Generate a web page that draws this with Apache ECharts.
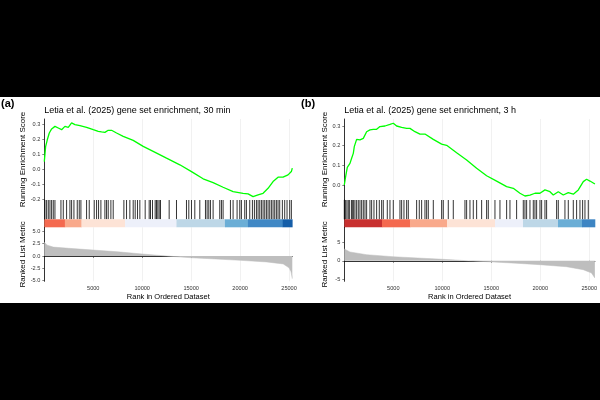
<!DOCTYPE html>
<html><head><meta charset="utf-8">
<script src="https://cdn.jsdelivr.net/npm/echarts@6/dist/echarts.min.js"></script>
<style>html,body{margin:0;padding:0;background:#fff}#c{width:600px;height:400px}</style>
</head><body><div id="c"></div>
<script>
// ---- panel (a): 30 min ----
const esRankA = [0,135,305,510,748,1088,1428,1768,2108,2448,2788,3128,3638,4319,5000,5509,5849,6189,6529,6869,7380,8060,9080,10100,11121,12481,13841,15032,16222,17242,18263,19283,20303,20813,21324,21834,22344,22854,23364,23874,24385,24895,25234,25330];
const esValA = [0.05,0.15,0.195,0.24,0.267,0.284,0.273,0.262,0.284,0.278,0.307,0.296,0.289,0.278,0.262,0.251,0.247,0.244,0.258,0.258,0.24,0.218,0.191,0.151,0.118,0.073,0.029,-0.016,-0.064,-0.089,-0.12,-0.149,-0.16,-0.164,-0.182,-0.171,-0.16,-0.127,-0.082,-0.053,-0.053,-0.038,-0.016,0.007];
const hitsA = [67,237,407,577,747,917,1088,1700,1938,2278,2618,2788,3026,3366,3570,3740,4319,4591,5101,5339,5543,5781,6189,6359,6529,6801,7039,8128,8400,8740,9080,9284,9522,9760,10304,10712,10848,11052,11324,11461,11597,11733,11869,12753,13501,14522,14760,15032,15372,15882,16460,16630,16800,16970,17242,17923,18093,18263,19011,19283,19691,19963,20133,20473,20643,20983,21256,21460,21664,21834,22004,22174,22344,22514,22684,22854,23024,23194,23364,23534,23704,23874,24044,24316,24554,24792,25064,25234];
const barBreaksA = [0,2100,3800,8250,13500,18450,20800,24350,25330];
const barColorsA = ['#F4694F','#F9A98B','#FDE3D6','#EDF0FA','#BDD7E7','#6BAED6','#4088C5','#155EA8'];
const metricRankA = [0,100,300,917,2500,5000,7500,10000,12500,15000,17500,20000,22700,24400,25000,25200,25330];
const metricValA = [2.8,2.5,2.2,1.8,1.56,1.2,0.85,0.4,0.0,-0.35,-0.6,-0.87,-1.2,-1.6,-2.4,-3.2,-4.6];

// ---- panel (b): 3 h ----
const esRankB = [0,136,306,578,748,918,1020,1258,1598,1939,2279,2619,2959,3299,3639,4149,4659,5000,5340,5850,6360,6700,7210,7720,8230,9081,9931,10441,11461,12482,13502,14522,15543,16563,17243,17923,18433,18944,19454,19964,20474,20984,21324,21834,22344,22855,23365,23875,24385,24725,25065,25575];
const esValB = [0.0,0.042,0.09,0.11,0.136,0.161,0.195,0.232,0.229,0.237,0.271,0.28,0.283,0.283,0.297,0.3,0.308,0.314,0.3,0.293,0.288,0.288,0.271,0.259,0.259,0.232,0.208,0.202,0.164,0.127,0.085,0.047,0.02,-0.008,-0.017,-0.042,-0.056,-0.051,-0.042,-0.042,-0.025,-0.034,-0.051,-0.034,-0.051,-0.039,-0.047,-0.025,0.017,0.029,0.02,0.005];
const hitsB = [0,136,272,408,544,748,816,952,1088,1258,1428,1598,1769,1939,2109,2279,2619,2789,3027,3299,3571,3809,3979,4387,4659,4999,5680,5850,6088,6360,6530,7380,7652,7890,8230,8400,8571,9081,9931,10101,10611,11121,12312,12482,12822,13162,13502,14012,14522,14692,15373,15883,16563,16903,17583,18263,18433,18604,18944,19284,19454,19624,19964,20134,20474,20644,21664,21834,22514,22855,23365,23705,24045,24317,24555,24895];
const barBreaksB = [0,3847,6704,10480,15378,18235,21806,24255,25580];
const barColorsB = ['#C8302F','#F4694F','#F9A98B','#FDE3D6','#EDF0FA','#BDD7E7','#6BAED6','#3D85C3'];
const metricRankB = [0,100,581,2279,5000,7500,10100,12650,15200,17500,19964,22685,24385,25235,25575];
const metricValB = [3.2,2.9,2.38,1.65,1.1,0.75,0.4,0.0,-0.32,-0.65,-1.05,-1.6,-2.4,-3.3,-4.65];

const xTicks = [5000,10000,15000,20000,25000];
const FONT = 'Liberation Sans, Arial, sans-serif';

const opt = {
  animation:false, backgroundColor:'#fff',
  title:[], grid:[], xAxis:[], yAxis:[], series:[],
  graphic:[
    {type:'rect', shape:{x:0,y:0,width:600,height:97}, style:{fill:'#000'}},
    {type:'rect', shape:{x:0,y:303,width:600,height:97}, style:{fill:'#000'}},
    {type:'text', left:1, top:98, style:{text:'(a)', font:'bold 11px '+FONT, fill:'#000'}},
    {type:'text', left:301, top:98, style:{text:'(b)', font:'bold 11px '+FONT, fill:'#000'}}
  ]
};

const lab = {fontSize:5.6, color:'#333', fontFamily:FONT};
const nameStyle = {fontSize:8, color:'#000', fontFamily:FONT};
const blackLine = {color:'#000', width:0.8};

function addPanel(k, p){
  const g = k*4;
  opt.title.push({text:p.title, left:p.left, top:106.5, padding:0,
    textStyle:{fontSize:9, fontWeight:'normal', color:'#000', fontFamily:FONT}});
  [[119,81],[200,19.3],[219.3,8],[227.3,54]].forEach(r =>
    opt.grid.push({left:p.left, top:r[0], width:p.width, height:r[1]}));
  for (let i=0;i<4;i++){
    const last = i===3;
    opt.xAxis.push({gridIndex:g+i, type:'value', min:0, max:p.xmax, interval:2500,
      axisLine:{show:last, lineStyle:blackLine},
      axisTick:{show:last, length:2, customValues:xTicks, lineStyle:{color:'#333', width:0.6}},
      axisLabel:{show:last, customValues:xTicks, formatter:v=>String(v), margin:4, ...lab},
      splitLine:{show:i!==2, lineStyle:{color:'#EBEBEB', width:0.7}},
      name: last ? 'Rank in Ordered Dataset' : '', nameLocation:'middle', nameGap:12,
      nameTextStyle:{...nameStyle, fontSize:7.5}
    });
  }
  opt.yAxis.push({gridIndex:g, type:'value', min:p.esMin, max:p.esMax,
    axisLine:{show:true, lineStyle:blackLine},
    axisTick:{show:true, length:2, customValues:p.esTicks, lineStyle:{color:'#333', width:0.6}},
    axisLabel:{customValues:p.esTicks, formatter:v=>v.toFixed(1), margin:4, ...lab},
    splitLine:{show:false},
    name:'Running Enrichment Score', nameLocation:'middle', nameGap:16, nameTextStyle:nameStyle});
  for (let i=1;i<3;i++) opt.yAxis.push({gridIndex:g+i, type:'value', min:0, max:1,
    axisLine:{show:true, lineStyle:blackLine}, axisTick:{show:false}, axisLabel:{show:false}, splitLine:{show:false}});
  opt.yAxis.push({gridIndex:g+3, type:'value', min:p.mMin, max:p.mMax,
    axisLine:{show:true, lineStyle:blackLine},
    axisTick:{show:true, length:2, customValues:p.mTicks, lineStyle:{color:'#333', width:0.6}},
    axisLabel:{customValues:p.mTicks, formatter:p.mFmt, margin:4, ...lab},
    splitLine:{show:false},
    name:'Ranked List Metric', nameLocation:'middle', nameGap:16, nameTextStyle:nameStyle});

  opt.series.push({type:'line', xAxisIndex:g, yAxisIndex:g, symbol:'none',
    data:p.esRank.map((r,i)=>[r,p.esVal[i]]), lineStyle:{color:'#00FF00', width:1.3}});
  opt.series.push({type:'custom', xAxisIndex:g+1, yAxisIndex:g+1, data:p.hits.map(h=>[h]),
    renderItem:(params, api)=>{
      const a = api.coord([api.value(0),0]), b = api.coord([api.value(0),1]);
      return {type:'line', shape:{x1:a[0],y1:a[1],x2:b[0],y2:b[1]}, style:{stroke:'#000', lineWidth:0.8}};
    }});
  opt.series.push({type:'custom', xAxisIndex:g+2, yAxisIndex:g+2,
    data:p.colors.map((c,i)=>[p.breaks[i], p.breaks[i+1], i]),
    renderItem:(params, api)=>{
      const a = api.coord([api.value(0),1]), b = api.coord([api.value(1),0]);
      return {type:'rect', shape:{x:a[0], y:a[1], width:b[0]-a[0]+0.3, height:b[1]-a[1]},
        style:{fill:p.colors[api.value(2)]}};
    }});
  opt.series.push({type:'line', xAxisIndex:g+3, yAxisIndex:g+3, symbol:'none',
    data:p.mRank.map((r,i)=>[r,p.mVal[i]]),
    lineStyle:{color:'#BEBEBE', width:0.5}, areaStyle:{color:'#BEBEBE', opacity:1}});
}

addPanel(0, {title:'Letia et al. (2025) gene set enrichment, 30 min', left:44.3, width:248, xmax:25330,
  esMin:-0.2046, esMax:0.333, esTicks:[-0.2,-0.1,0,0.1,0.2,0.3],
  mMin:-5.12, mMax:5.81, mTicks:[-5,-2.5,0,2.5,5], mFmt:v=>v.toFixed(1),
  esRank:esRankA, esVal:esValA, hits:hitsA, breaks:barBreaksA, colors:barColorsA,
  mRank:metricRankA, mVal:metricValA});
addPanel(1, {title:'Letia et al. (2025) gene set enrichment, 3 h', left:344.3, width:250.7, xmax:25580,
  esMin:-0.0763, esMax:0.3356, esTicks:[0,0.1,0.2,0.3],
  mMin:-5.54, mMax:9.05, mTicks:[-5,0,5], mFmt:v=>String(v),
  esRank:esRankB, esVal:esValB, hits:hitsB, breaks:barBreaksB, colors:barColorsB,
  mRank:metricRankB, mVal:metricValB});

const chart = echarts.init(document.getElementById('c'));
chart.setOption(opt);
</script></body></html>
